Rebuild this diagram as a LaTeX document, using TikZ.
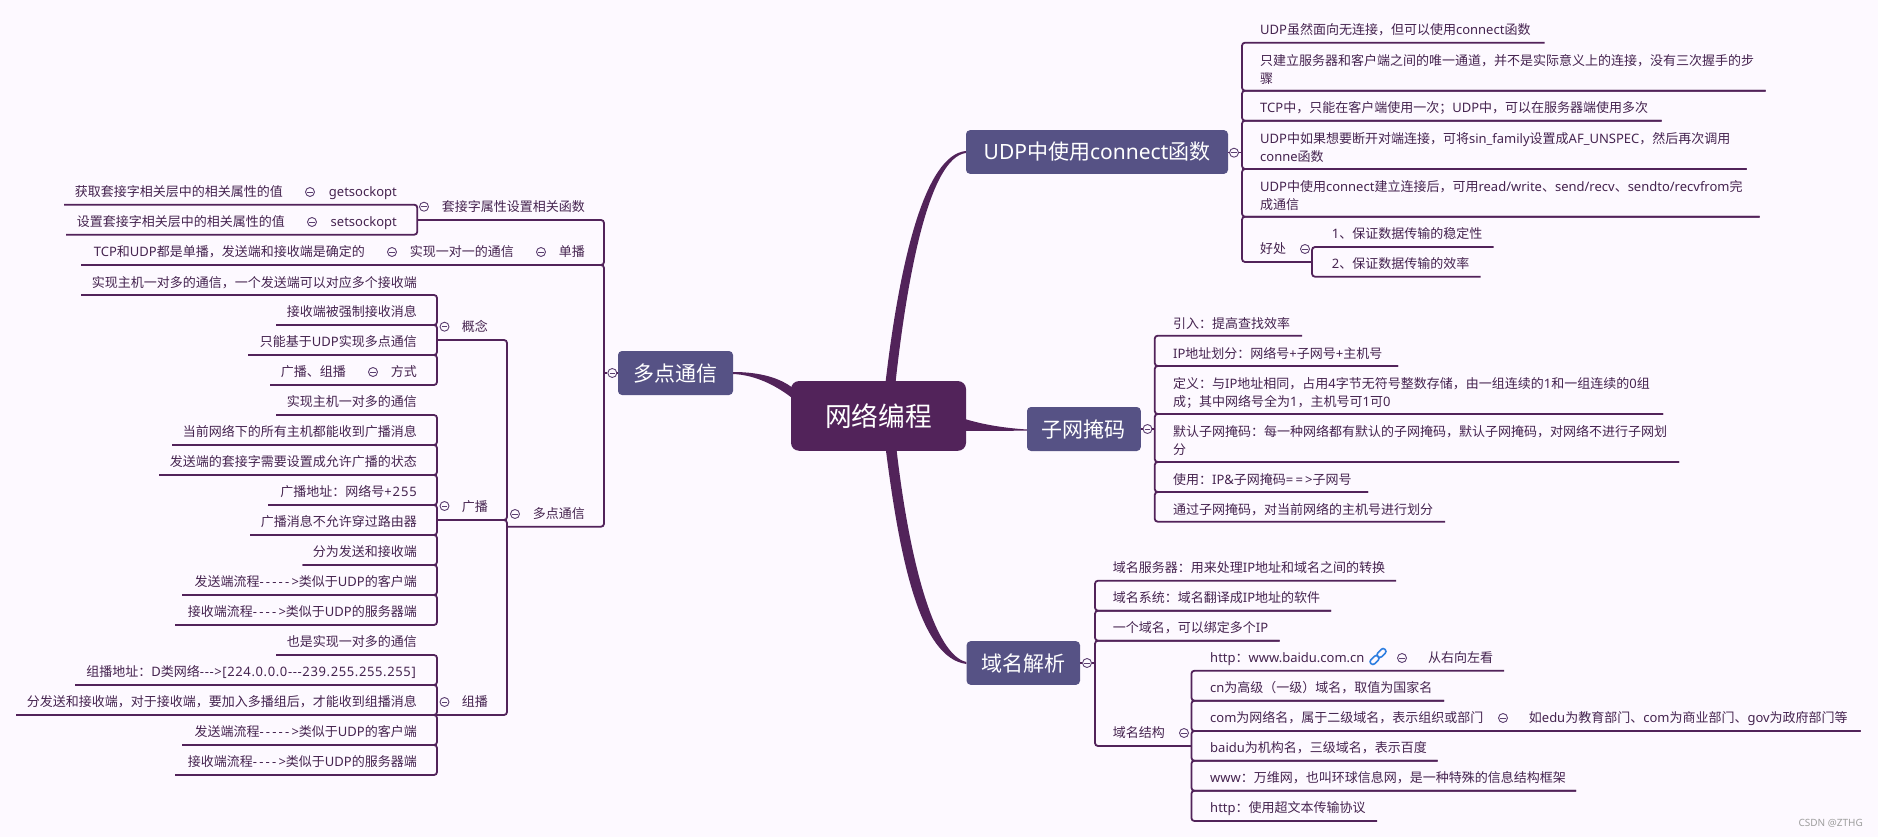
\documentclass[tikz,border=0pt]{standalone}
\usepackage{fontspec}
\newfontfamily\cjkf{Noto Sans CJK SC}
\newfontfamily\latf{Noto Sans}
\newfontfamily\latw[LetterSpace=7]{Noto Sans}
\newfontfamily\latm[LetterSpace=4.8]{Noto Sans}
\newfontfamily\latx[LetterSpace=17]{Noto Sans}
\newcommand{\ltn}[1]{{\latf #1}}
\newcommand{\ltw}[1]{{\latw #1}}
\newcommand{\ltm}[1]{{\latm #1}}
\newcommand{\ltx}[1]{{\latx #1}}
\definecolor{bgc}{HTML}{FDF9FF}
\definecolor{linec}{HTML}{52235A}
\definecolor{boxc}{HTML}{565285}
\definecolor{textc}{HTML}{45234F}
\definecolor{foldc}{HTML}{5B3F70}
\definecolor{iconc}{HTML}{2F7FE0}
\tikzset{
  x=1pt,y=-1pt,
  leaf/.style={inner sep=0pt,text=textc,font=\cjkf\fontsize{13}{18}\selectfont},
  link/.style={draw=linec,line width=1.8pt,rounded corners=3pt},
  stub/.style={draw=linec,line width=1.4pt},
  branch/.style={fill=linec,draw=none},
  subbox/.style={fill=boxc,rounded corners=4pt,text=white,inner sep=0pt,
    font=\cjkf\fontsize{21}{24}\selectfont,text height=18.5pt,text depth=2.5pt},
  rootbox/.style={fill=linec,rounded corners=8pt,text=white,inner sep=0pt,
    font=\cjkf\fontsize{26.7}{30}\selectfont,text height=23.5pt,text depth=3.2pt},
  foldn/.style={circle,draw=foldc,fill=bgc,line width=0.9pt,minimum size=9pt,inner sep=0pt},
  foldm/.style={draw=foldc,line width=0.8pt},
  chain/.style={draw=iconc,line width=1.6pt,rounded corners=2.5pt,rotate=45,minimum width=10pt,minimum height=5.5pt,inner sep=0pt},
  mark text/.style={inner sep=0pt,text=black!38,font=\latf\fontsize{10}{12}\selectfont}
}
% name, text edge x, last-line text y, free end x, underline y, text
\newcommand{\rowE}[6]{\node[leaf,anchor=base east] (#1) at (#2,#3+4.7) {#6};\coordinate (#1-u) at (#4,#5);}
\newcommand{\rowW}[6]{\node[leaf,anchor=base west,align=left] (#1) at (#2,#3+4.7) {#6};\coordinate (#1-u) at (#4,#5);}
\newcommand{\lblE}[4]{\node[leaf,anchor=base east] (#1) at (#2,#3+4.7) {#4};}
\newcommand{\lblW}[4]{\node[leaf,anchor=base west] (#1) at (#2,#3+4.7) {#4};}
\newcommand{\foldat}[3]{\node[foldn] (#1) at (#2,#3) {};\draw[foldm] ([xshift=-2.6pt]#1.center) -- ([xshift=2.6pt]#1.center);}
% bar, row a, row b
\newcommand{\joinrows}[3]{\draw[link] (#2-u) -- (#2-u -| #1) -- (#3-u -| #1) -- (#3-u);}
\begin{document}
\begin{tikzpicture}
\useasboundingbox (0,0) rectangle (1878,837);
\fill[bgc] (0,0) rectangle (1878,837);

% bars
\coordinate (b0) at (604,0);
\coordinate (b1) at (417.3,0);
\coordinate (b2) at (507,0);
\coordinate (b3) at (437,0);
\coordinate (bU) at (1242,0);
\coordinate (bG) at (1312,0);
\coordinate (bS) at (1154.7,0);
\coordinate (bD) at (1095,0);
\coordinate (bJ) at (1191.4,0);

% boxes
\node[rootbox,minimum width=175pt,minimum height=69.7pt] (root) at (878.5,415.9) {网络编程};
\node[subbox,minimum width=262pt,minimum height=43.7pt] (boxU) at (1097,152) {\ltn{UDP}中使用\ltn{connect}函数};
\node[subbox,minimum width=113.8pt,minimum height=44pt] (boxS) at (1083.9,429) {子网掩码};
\node[subbox,minimum width=113.4pt,minimum height=43.7pt] (boxD) at (1023.3,663) {域名解析};
\node[subbox,minimum width=115pt,minimum height=44pt] (boxM) at (675.5,373) {多点通信};

% tapered branches
\path[branch] ([xshift=7.2pt]root.north) .. controls (900,260) and (925,155) .. ([yshift=1pt]boxU.west)
  -- ([yshift=-1pt]boxU.west) .. controls (930,158) and (908,270) .. ([xshift=17.2pt]root.north) -- cycle;
\path[branch] ([xshift=7.5pt]root.south) .. controls (900,560) and (920,658) .. ([yshift=-1pt]boxD.west)
  -- ([yshift=1pt]boxD.west) .. controls (935,655) and (910,565) .. ([xshift=18.2pt]root.south) -- cycle;
\path[branch] ([yshift=-3.5pt]root.east) .. controls (985,425) and (1005,428) .. ([yshift=-0.5pt]boxS.west)
  -- ([yshift=-1.5pt]boxS.west) .. controls (1005,431) and (985,431) .. ([yshift=-15pt]root.east) -- cycle;
\path[branch] ([yshift=1pt]boxM.east) .. controls (760,372) and (780,378) .. ([yshift=-1pt,xshift=2pt]root.west |- 0,387)
  -- ([xshift=0pt]root.west |- 0,397) .. controls (775,385) and (755,375) .. ([yshift=-1pt]boxM.east) -- cycle;

% ---------- left side ----------
\lblE{getv}{283}{192}{获取套接字相关层中的相关属性的值}
\foldat{getf}{310}{192}
\rowE{gets}{397}{192}{64}{204.7}{\ltn{getsockopt}}
\lblE{setv}{285}{222}{设置套接字相关层中的相关属性的值}
\foldat{setf}{312}{222}
\rowE{sets}{397}{222}{66}{234.7}{\ltn{setsockopt}}
\joinrows{b1}{gets}{sets}
\rowE{sock}{585}{207}{417.3}{220}{套接字属性设置相关函数}
\foldat{sockf}{424}{206.7}

\lblE{tcpv}{365}{252}{\ltn{TCP}和\ltn{UDP}都是单播，发送端和接收端是确定的}
\foldat{tcpf}{392}{252}
\lblE{one}{514}{252}{实现一对一的通信}
\foldat{onef}{541}{252}
\rowE{uni}{585}{252}{81}{265}{单播}
\rowE{multi}{585}{514}{507}{526.7}{多点通信}
\foldat{multif}{515}{514}
\joinrows{b0}{sock}{uni}
\joinrows{b0}{uni}{multi}

\rowE{cA}{417}{282.3}{81}{295}{实现主机一对多的通信，一个发送端可以对应多个接收端}
\rowE{cB}{417}{312}{276}{325}{接收端被强制接收消息}
\rowE{cC}{417}{342}{248}{355}{只能基于\ltn{UDP}实现多点通信}
\lblE{cDv}{346}{372}{广播、组播}
\foldat{cDf}{373}{372}
\rowE{cD}{417}{372}{270}{385}{方式}
\joinrows{b3}{cA}{cB}
\joinrows{b3}{cB}{cC}
\joinrows{b3}{cC}{cD}
\rowE{conc}{488}{327}{437}{340}{概念}
\foldat{concf}{444.5}{326.7}

\rowE{bA}{417}{402}{276}{415}{实现主机一对多的通信}
\rowE{bB}{417}{432}{172}{445}{当前网络下的所有主机都能收到广播消息}
\rowE{bC}{417}{462}{159}{475}{发送端的套接字需要设置成允许广播的状态}
\rowE{bD1}{417}{492}{268}{505}{广播地址：网络号\ltw{+255}}
\rowE{bE}{417}{522}{250}{535}{广播消息不允许穿过路由器}
\rowE{bF}{417}{552}{302.5}{565}{分为发送和接收端}
\rowE{bG1}{417}{582}{182}{595}{发送端流程\ltx{----->}类似于\ltn{UDP}的客户端}
\rowE{bH}{417}{612}{175}{625}{接收端流程\ltx{---->}类似于\ltn{UDP}的服务器端}
\joinrows{b3}{bA}{bB}
\joinrows{b3}{bB}{bC}
\joinrows{b3}{bC}{bD1}
\joinrows{b3}{bD1}{bE}
\joinrows{b3}{bE}{bF}
\joinrows{b3}{bF}{bG1}
\joinrows{b3}{bG1}{bH}
\rowE{bcast}{488}{507}{437}{520}{广播}
\foldat{bcastf}{444.5}{506}

\rowE{mA}{417}{642}{276}{655}{也是实现一对多的通信}
\rowE{mB}{416}{672}{75}{685}{组播地址：\ltn{D}类网络\ltm{--->[224.0.0.0---239.255.255.255]}}
\rowE{mC}{417}{702}{16}{715}{分发送和接收端，对于接收端，要加入多播组后，才能收到组播消息}
\rowE{mD}{417}{732}{182}{745}{发送端流程\ltx{----->}类似于\ltn{UDP}的客户端}
\rowE{mE}{417}{762}{175}{775}{接收端流程\ltx{---->}类似于\ltn{UDP}的服务器端}
\joinrows{b3}{mA}{mB}
\joinrows{b3}{mB}{mC}
\joinrows{b3}{mC}{mD}
\joinrows{b3}{mD}{mE}
\rowE{mcast}{488}{702}{437}{715}{组播}
\foldat{mcastf}{444.5}{702}
\joinrows{b2}{conc}{bcast}
\joinrows{b2}{bcast}{mcast}

\node[foldn] (foldM) at (612.3,373) {};
\draw[stub] (foldM -| b0) -- (foldM);
\draw[stub] (foldM) -- (boxM.west);
\draw[foldm] ([xshift=-2.6pt]foldM.center) -- ([xshift=2.6pt]foldM.center);

% ---------- UDP ----------
\rowW{uA}{1260}{30}{1544.6}{42.7}{\ltn{UDP}虽然面向无连接，但可以使用\ltn{connect}函数}
\rowW{uB}{1260}{78.4}{1765.7}{90.7}{只建立服务器和客户端之间的唯一通道，并不是实际意义上的连接，没有三次握手的步\\骤}
\rowW{uC}{1260}{108}{1661.6}{120.7}{\ltn{TCP}中，只能在客户端使用一次；\ltn{UDP}中，可以在服务器端使用多次}
\rowW{uD}{1260}{156.4}{1746.7}{169}{\ltn{UDP}中如果想要断开对端连接，可将\ltn{sin\_family}设置成\ltn{AF\_UNSPEC}，然后再次调用\\\ltn{conne}函数}
\rowW{uE}{1260}{204.4}{1759.7}{216.7}{\ltn{UDP}中使用\ltn{connect}建立连接后，可用\ltn{read/write}、\ltn{send/recv}、\ltn{sendto/recvfrom}完\\成通信}
\rowW{uF}{1260}{249}{1312}{262}{好处}
\foldat{uFf}{1305}{249}
\rowW{uG}{1331.6}{234}{1493.6}{247}{\ltn{1}、保证数据传输的稳定性}
\rowW{uH}{1331.6}{264}{1480.6}{276.7}{\ltn{2}、保证数据传输的效率}
\joinrows{bU}{uA}{uB}
\joinrows{bU}{uB}{uC}
\joinrows{bU}{uC}{uD}
\joinrows{bU}{uD}{uE}
\joinrows{bU}{uE}{uF}
\joinrows{bG}{uG}{uH}
\node[foldn] (foldU) at (1234,152.7) {};
\draw[stub] (foldU -| bU) -- (foldU);
\draw[stub] (foldU) -- (boxU.east |- foldU);
\draw[foldm] ([xshift=-2.6pt]foldU.center) -- ([xshift=2.6pt]foldU.center);

% ---------- subnet mask ----------
\rowW{sA}{1173}{323.7}{1302}{335.7}{引入：提高查找效率}
\rowW{sB}{1173}{353.7}{1398}{366}{\ltn{IP}地址划分：网络号\ltn{+}子网号\ltn{+}主机号}
\rowW{sC}{1173}{402}{1663}{414}{定义：与\ltn{IP}地址相同，占用\ltn{4}字节无符号整数存储，由一组连续的\ltn{1}和一组连续的\ltn{0}组\\成；其中网络号全为\ltn{1}，主机号可\ltn{1}可\ltn{0}}
\rowW{sD}{1173}{450}{1679}{462}{默认子网掩码：每一种网络都有默认的子网掩码，默认子网掩码，对网络不进行子网划\\分}
\rowW{sE}{1173}{479.7}{1368}{492}{使用：\ltn{IP\&}子网掩码\ltx{==>}子网号}
\rowW{sF}{1173}{509.7}{1445}{521.7}{通过子网掩码，对当前网络的主机号进行划分}
\joinrows{bS}{sA}{sB}
\joinrows{bS}{sB}{sC}
\joinrows{bS}{sC}{sD}
\joinrows{bS}{sD}{sE}
\joinrows{bS}{sE}{sF}
\node[foldn] (foldS) at (1147.5,429) {};
\draw[stub] (foldS -| bS) -- (foldS);
\draw[stub] (foldS) -- (boxS.east);
\draw[foldm] ([xshift=-2.6pt]foldS.center) -- ([xshift=2.6pt]foldS.center);

% ---------- domain ----------
\rowW{dA}{1112.7}{568}{1396}{580.7}{域名服务器：用来处理\ltn{IP}地址和域名之间的转换}
\rowW{dB}{1112.7}{598}{1331}{610.7}{域名系统：域名翻译成\ltn{IP}地址的软件}
\rowW{dC}{1112.7}{628}{1279.6}{640.7}{一个域名，可以绑定多个\ltn{IP}}
\rowW{dS}{1112.7}{733}{1191.4}{746}{域名结构}
\foldat{dSf}{1184}{733}
\joinrows{bD}{dA}{dB}
\joinrows{bD}{dB}{dC}
\joinrows{bD}{dC}{dS}

\lblW{jAv}{1210}{658}{\ltn{http}：\ltn{www.baidu.com.cn}}
\node[chain] (lnkA) at (1374.5,660) {};
\node[chain] (lnkB) at (1381.5,653) {};
\foldat{jAf}{1402}{658}
\rowW{jA}{1428}{658}{1504}{670.7}{从右向左看}
\rowW{jB}{1210}{688}{1444}{700.7}{\ltn{cn}为高级（一级）域名，取值为国家名}
\lblW{jCv}{1210}{718}{\ltn{com}为网络名，属于二级域名，表示组织或部门}
\foldat{jCf}{1503}{718}
\rowW{jC}{1528.7}{718}{1860.6}{731}{如\ltn{edu}为教育部门、\ltn{com}为商业部门、\ltn{gov}为政府部门等}
\rowW{jD}{1210}{748}{1437.6}{760.7}{\ltn{baidu}为机构名，三级域名，表示百度}
\rowW{jE}{1210}{778}{1576}{790.7}{\ltn{www}：万维网，也叫环球信息网，是一种特殊的信息结构框架}
\rowW{jF}{1210}{808}{1377}{821}{\ltn{http}：使用超文本传输协议}
\joinrows{bJ}{jA}{jB}
\joinrows{bJ}{jB}{jC}
\joinrows{bJ}{jC}{jD}
\joinrows{bJ}{jD}{jE}
\joinrows{bJ}{jE}{jF}
\node[foldn] (foldD) at (1087,663) {};
\draw[stub] (foldD -| bD) -- (foldD);
\draw[stub] (foldD) -- (boxD.east);
\draw[foldm] ([xshift=-2.6pt]foldD.center) -- ([xshift=2.6pt]foldD.center);

\node[mark text,anchor=east] (wm) at (1863,823) {CSDN @ZTHG};
\end{tikzpicture}
\end{document}
